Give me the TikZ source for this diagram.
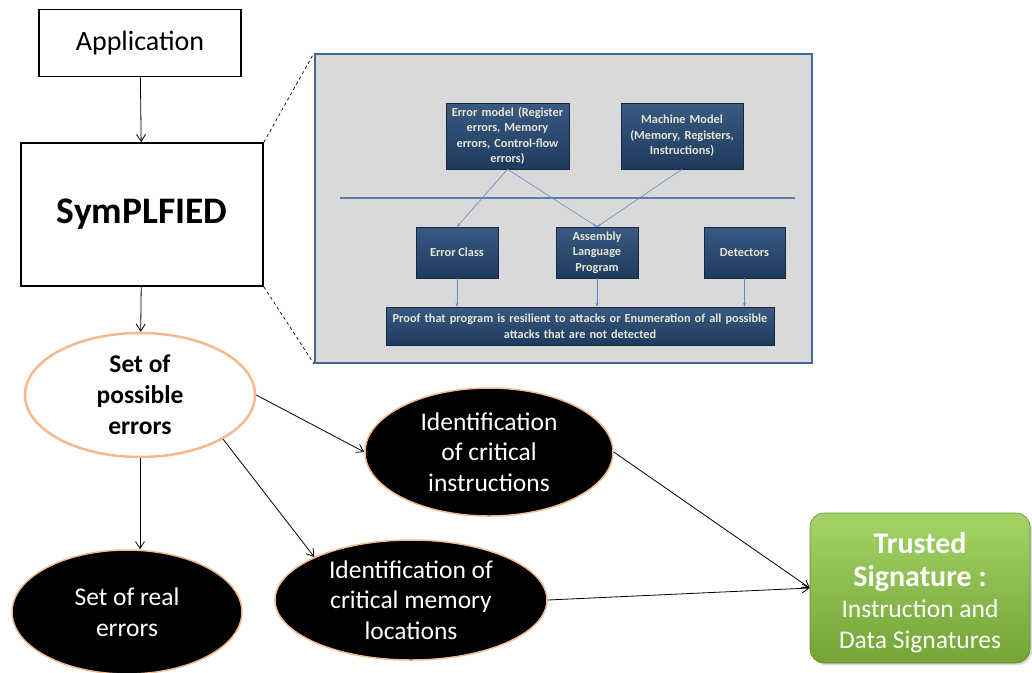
\documentclass[tikz,border=0pt]{standalone}
\usepackage{fontspec}
\setmainfont{Carlito}
\usetikzlibrary{arrows.meta,shapes.geometric,shadows}
\definecolor{orangeline}{HTML}{F8B98A}
\definecolor{panelfill}{HTML}{D9D9D9}
\definecolor{panelline}{HTML}{41679C}
\definecolor{navytop}{HTML}{3A5A82}
\definecolor{navybot}{HTML}{1E3A5E}
\definecolor{innertext}{HTML}{E6E6D6}
\definecolor{innerarrow}{HTML}{5B8BCB}
\definecolor{greentop}{HTML}{A3D468}
\definecolor{greenbot}{HTML}{74A436}
\newcommand{\bigbold}[1]{\textbf{\fontsize{30}{35}\selectfont #1}}
\tikzset{
  bigbox/.style={draw=black, line width=1.8pt, fill=white, align=center},
  conn/.style={-{Straight Barb[length=7pt,width=9pt]}, line width=0.8pt},
  lightell/.style={ellipse, draw=orangeline, line width=2.5pt, fill=white, align=center,
    font=\bfseries\fontsize{25.5}{31}\selectfont, inner sep=0pt},
  darkell/.style={ellipse, draw=orangeline, line width=1.5pt, fill=black, text=white, align=center,
    font=\fontsize{25.5}{30.5}\selectfont, inner sep=0pt},
  ibox/.style={draw=navybot!70!black, line width=0.4pt, top color=navytop, bottom color=navybot,
    text=innertext, align=center, font=\bfseries\fontsize{12.3}{15.5}\selectfont, inner sep=1pt,
    drop shadow={shadow xshift=1pt, shadow yshift=-1pt, opacity=0.35}},
  iarrow/.style={-{Stealth[length=4pt,width=3pt]}, draw=innerarrow, line width=0.6pt},
  greenbox/.style={rounded corners=14pt, top color=greentop, bottom color=greenbot,
    draw=greenbot!85!black, line width=0.6pt, inner sep=0pt,
    drop shadow={shadow xshift=2pt, shadow yshift=-2pt, opacity=0.3}},
  greentext/.style={text=white, align=center, inner sep=0pt, font=\fontsize{25.5}{31}\selectfont},
}
\begin{document}
\begin{tikzpicture}[x=1pt,y=-1pt]
\useasboundingbox (0,0) rectangle (1032,672);

% left column
\node[bigbox, minimum width=202, minimum height=67, font=\fontsize{28}{32}\selectfont] (app) at (140,43) {Application};
\node[bigbox, minimum width=242, minimum height=143, font=\bfseries\fontsize{37.5}{42}\selectfont] (sym) at (142,214.5) {SymPLFIED};
\node[lightell, minimum width=230, minimum height=124] (poss) at (140,395) {Set of\\possible\\errors};

% panel
\node[draw=panelline, fill=panelfill, line width=2pt, minimum width=497, minimum height=309, inner sep=0pt] (panel) at (563.5,208.5) {};
\draw[dashed, line width=0.7pt] (sym.north east) -- (panel.north west);
\draw[dashed, line width=0.7pt] (sym.south east) -- (panel.south west);

\node[ibox, minimum width=123, minimum height=66, text width=121] (emod) at (507.5,136) {Error model (Register\\errors, Memory\\errors, Control-flow\\errors)};
\node[ibox, minimum width=122, minimum height=66, text width=120] (mmod) at (682,136) {Machine Model\\(Memory, Registers,\\Instructions)};
\coordinate (hl) at (340,198);
\coordinate (hr) at (795,198);
\draw[draw=panelline!85!white, line width=1.6pt] (hl) -- (hr);
\node[ibox, minimum width=82, minimum height=51] (ecls) at (457,252.5) {Error Class};
\node[ibox, minimum width=82, minimum height=51, text width=78] (asm) at (597,252.5) {Assembly\\Language\\Program};
\node[ibox, minimum width=81, minimum height=51] (det) at (744.5,252.5) {Detectors};
\node[ibox, minimum width=388, minimum height=38, text width=386] (proof) at (580,326) {Proof that program is resilient to attacks or Enumeration of all possible\\attacks that are not detected};

\draw[iarrow] (emod.south) -- (ecls.north);
\draw[iarrow] (emod.south) -- (asm.north);
\draw[iarrow] (mmod.south) -- (asm.north);
\draw[iarrow] (ecls.south) -- (ecls.south |- proof.north);
\draw[iarrow] (asm.south) -- (asm.south |- proof.north);
\draw[iarrow] (det.south) -- (det.south |- proof.north);

% dark ellipses
\node[darkell, minimum width=248, minimum height=128] (instr) at (489,452) {Identification\\of critical\\instructions};
\node[darkell, minimum width=230, minimum height=124] (real) at (127,612) {Set of real\\errors};
\node[darkell, minimum width=272, minimum height=120] (mem) at (411,600) {Identification of\\critical memory\\locations};

% green box
\node[greenbox, minimum width=220, minimum height=150] (trust) at (920,588) {};
\node[greentext] (trusttext) at ([yshift=-5pt]trust.center) {\bigbold{Trusted}\\[2pt] \bigbold{Signature :}\\ Instruction and\\ Data Signatures};

% connectors
\draw[conn] (app) -- (sym);
\draw[conn] (sym) -- (poss);
\draw[conn] (poss.south) -- (poss.south |- real.north);
\draw[conn] (poss.east) -- (instr.west);
\draw[conn] (poss.-28) -- (mem.north west);
\draw[conn] (instr.east) -- (trust.west);
\draw[conn] (mem.east) -- (trust.west);
\end{tikzpicture}
\end{document}
